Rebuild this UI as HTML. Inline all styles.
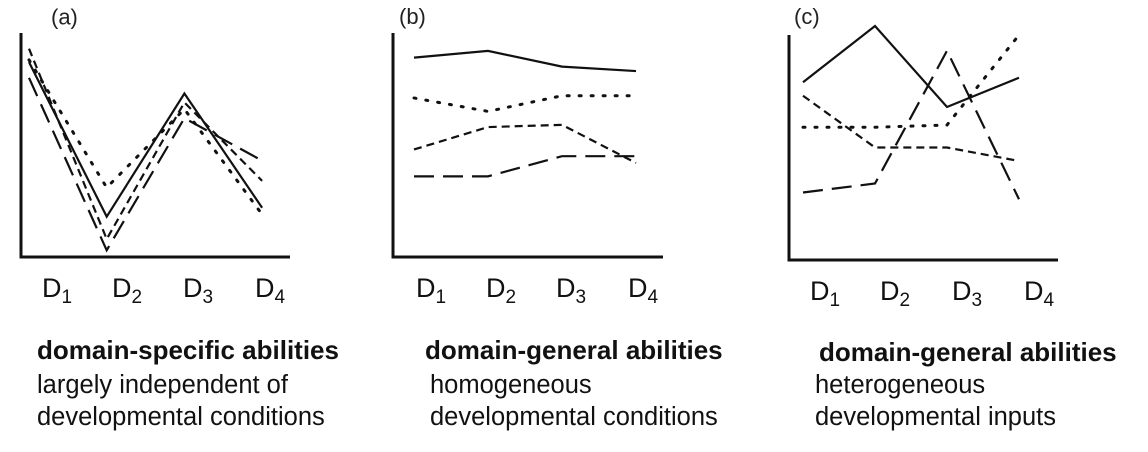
<!DOCTYPE html>
<html><head><meta charset="utf-8"><style>
body{margin:0;background:#fff;width:1148px;height:452px;overflow:hidden;font-family:"Liberation Sans",sans-serif}
svg{position:absolute;left:0;top:0}
.cap{position:absolute;font-family:"Liberation Sans",sans-serif;color:#111;white-space:nowrap}
.t{font-weight:bold;font-size:26px;line-height:30px}
.s{font-size:25.5px;line-height:32px}
</style></head><body>
<svg id="chart" width="1148" height="452"></svg>
<div class="cap t" style="left:37px;top:335px">domain-specific abilities</div>
<div class="cap s" style="left:37px;top:369px">largely independent of<br>developmental conditions</div>
<div class="cap t" style="left:425px;top:335px">domain-general abilities</div>
<div class="cap s" style="left:430px;top:369px">homogeneous<br>developmental conditions</div>
<div class="cap t" style="left:819px;top:337px">domain-general abilities</div>
<div class="cap s" style="left:815px;top:369px">heterogeneous<br>developmental inputs</div>
<script>
const categories=["D1","D2","D3","D4"];
const aSolid=[87,18,73,22], aDotted=[88,31,66,19], aShort=[93,8,69,34], aLong=[80,3,62,43];
const bSolid=[89,92,85,83], bDotted=[71,65,72,72], bShort=[48,58,59,42], bLong=[36,36,45,45];
const cSolid=[79,104,68,81], cDotted=[59,59,60,100], cShort=[73,50,50,44], cLong=[30,34,93,27];
const panelLabels=["(a)","(b)","(c)"];
const NS="http://www.w3.org/2000/svg";
const svg=document.getElementById('chart');
function mk(t,a){const e=document.createElementNS(NS,t);for(const k in a)e.setAttribute(k,a[k]);svg.appendChild(e);return e;}
const panels=[
 {ax:21,top:33,bot:257,right:290,x0:29,step:77.7,lx:51,ly:52/3+7,tx:[42,112,183,255],ty:297,series:[aSolid,aDotted,aShort,aLong]},
 {ax:393,top:33,bot:257,right:663,x0:414,step:74,lx:399,ly:24,tx:[416,486,556,628],ty:297,series:[bSolid,bDotted,bShort,bLong]},
 {ax:789,top:35,bot:260,right:1058,x0:803,step:72,lx:794,ly:24,tx:[810,880,952,1024],ty:300,series:[cSolid,cDotted,cShort,cLong]}
];
const styles=[{d:"",w:2.2,n:"solid"},{d:"2 10",w:3,n:"dotted",cap:"round"},{d:"8 5",w:2.2,n:"short-dash"},{d:"20 9",w:2.2,n:"long-dash"}];
panels.forEach((p,pi)=>{
 const xs=i=>p.x0+i*p.step;
 const ys=v=>p.bot-v/100*(p.bot-p.top);
 let e=mk('line',{x1:p.ax,y1:p.top,x2:p.ax,y2:p.bot+1.5,stroke:'#111','stroke-width':3});
 
 
 e=mk('line',{x1:p.ax-1.5,y1:p.bot,x2:p.right,y2:p.bot,stroke:'#111','stroke-width':3});
 
 
 e=mk('text',{x:p.lx,y:p.ly,'font-size':22,fill:'#222','font-family':'Liberation Sans, sans-serif'});
 e.textContent=panelLabels[pi];
 
 
 categories.forEach((c,i)=>{
  const t=mk('text',{x:p.tx[i],y:p.ty,'font-size':27,fill:'#111','font-family':'Liberation Sans, sans-serif'});
  t.innerHTML='D<tspan font-size="19" dy="6">'+c.slice(1)+'</tspan>';
  
  
 });
 p.series.forEach((s,si)=>{
  const st=styles[si];
  const pts=s.map((v,i)=>xs(i)+','+ys(v)).join(' ');
  const l=mk('polyline',{points:pts,fill:'none',stroke:'#111','stroke-width':st.w,'stroke-dasharray':st.d,'stroke-linecap':st.cap||'butt','stroke-linejoin':'miter'});
  
  
 });
});
</script>
</body></html>
